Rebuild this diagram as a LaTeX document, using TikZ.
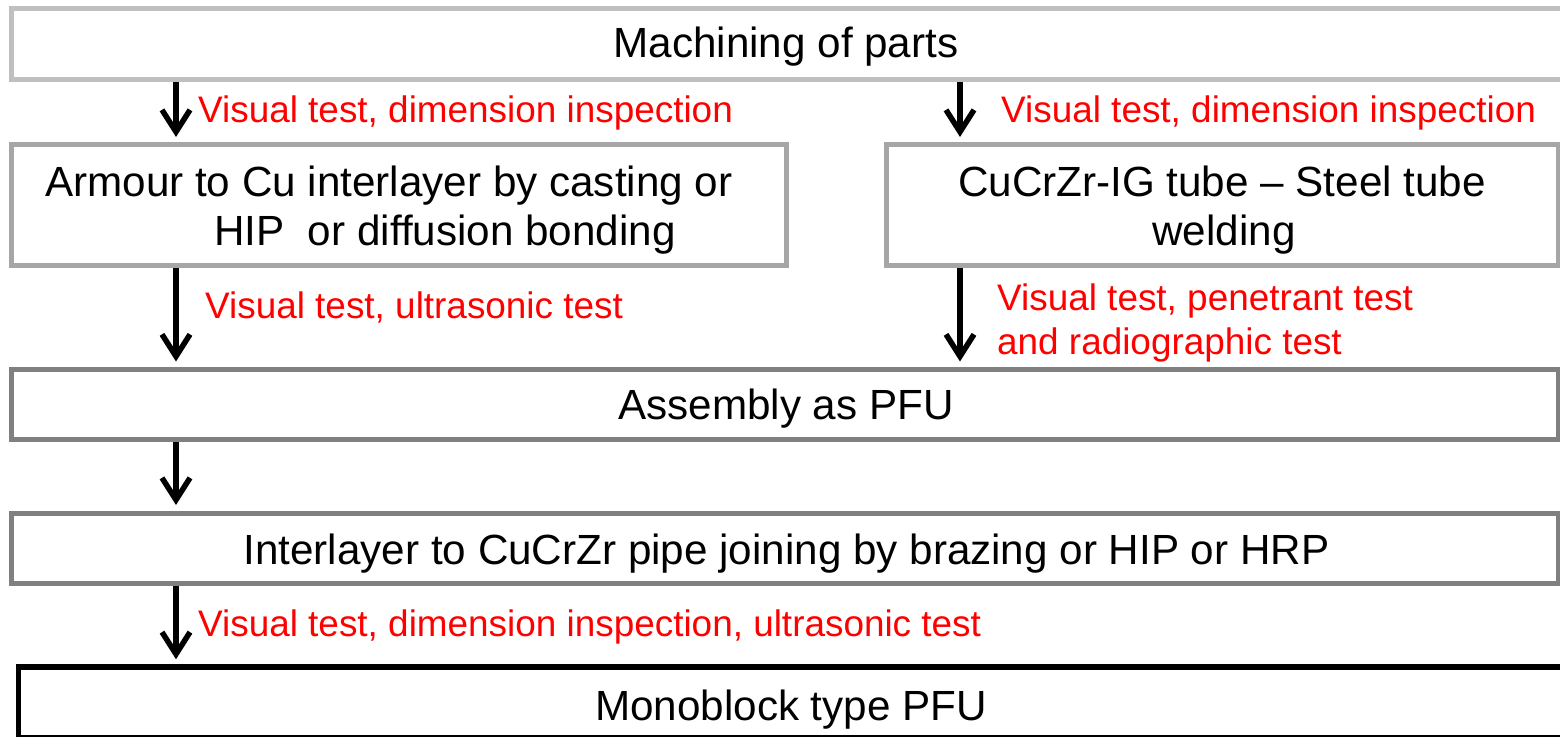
\documentclass[tikz,border=0pt]{standalone}
\usepackage{fontspec}
\setmainfont{Liberation Sans}
\usetikzlibrary{arrows.meta}
\definecolor{grayA}{HTML}{BFBFBF}
\definecolor{grayB}{HTML}{A6A6A6}
\definecolor{grayC}{HTML}{808080}
\definecolor{redlab}{HTML}{FF0000}
\tikzset{
  box/.style={draw, rectangle, inner sep=0pt, line width=5pt, fill=white},
  boxtxt/.style={inner sep=0pt, anchor=base, font=\fontsize{42.2}{49}\selectfont},
  boxtxtw/.style={boxtxt, anchor=base west},
  lab/.style={inner sep=0pt, anchor=base west, text=redlab, font=\fontsize{36.9}{44}\selectfont},
  arr/.style={line width=5.5pt, black, -{Straight Barb[length=22pt, width=28pt]}},
}
\begin{document}
\begin{tikzpicture}[x=1pt, y=-1pt]
\useasboundingbox (0,0) rectangle (1560,736);
\clip (0,0) rectangle (1560,736);
\fill[white] (0,0) rectangle (1560,736);
% boxes
\node[box, draw=grayA, minimum width=1560pt, minimum height=71pt] (b1) at (791,44) {};
\node[box, draw=grayB, minimum width=775pt, minimum height=121pt] (b2) at (398.5,205) {};
\node[box, draw=grayB, minimum width=672pt, minimum height=121pt] (b3) at (1222,205) {};
\node[box, draw=grayC, minimum width=1546.5pt, minimum height=70.5pt] (b4) at (784.75,404.25) {};
\node[box, draw=grayC, minimum width=1546.5pt, minimum height=69.5pt] (b5) at (784.75,548.25) {};
\node[box, draw=black, line width=5.5pt, minimum width=1560pt, minimum height=70.5pt] (b6) at (798.5,702.25) {};
% box texts
\node[boxtxt] (t1) at (786,57) {Machining of parts};
\node[boxtxtw] (t2a) at (45,196) {Armour to Cu interlayer by casting or};
\node[boxtxtw] (t2b) at (214,245) {HIP\ \ or diffusion bonding};
\node[boxtxt] (t3a) at (1222,196) {CuCrZr-IG tube \textendash{} Steel tube};
\node[boxtxt] (t3b) at (1224,245) {welding};
\node[boxtxt] (t4) at (786,419) {Assembly as PFU};
\node[boxtxt] (t5) at (786.5,564) {Interlayer to CuCrZr pipe joining by brazing or HIP or HRP};
\node[boxtxt] (t6) at (791,720) {Monoblock type PFU};
% red labels
\node[lab] (r1) at (198,122) {Visual test, dimension inspection};
\node[lab] (r2) at (1001,122) {Visual test, dimension inspection};
\node[lab] (r3) at (205,318) {Visual test, ultrasonic test};
\node[lab] (r4a) at (997,310) {Visual test, penetrant test};
\node[lab] (r4b) at (997,354) {and radiographic test};
\node[lab] (r5) at (198,636) {Visual test, dimension inspection, ultrasonic test};
% arrows
\coordinate (cL) at (176,0);
\coordinate (cR) at (960,0);
\draw[arr, shorten >=5pt] (b1.south -| cL) -- (b2.north -| cL);
\draw[arr, shorten >=5pt] (b1.south -| cR) -- (b3.north -| cR);
\draw[arr, shorten >=5pt] (b2.south -| cL) -- (b4.north -| cL);
\draw[arr, shorten >=5pt] (b3.south -| cR) -- (b4.north -| cR);
\draw[arr, shorten >=6pt] (b4.south -| cL) -- (b5.north -| cL);
\draw[arr, shorten >=5pt] (b5.south -| cL) -- (b6.north -| cL);
\end{tikzpicture}
\end{document}
